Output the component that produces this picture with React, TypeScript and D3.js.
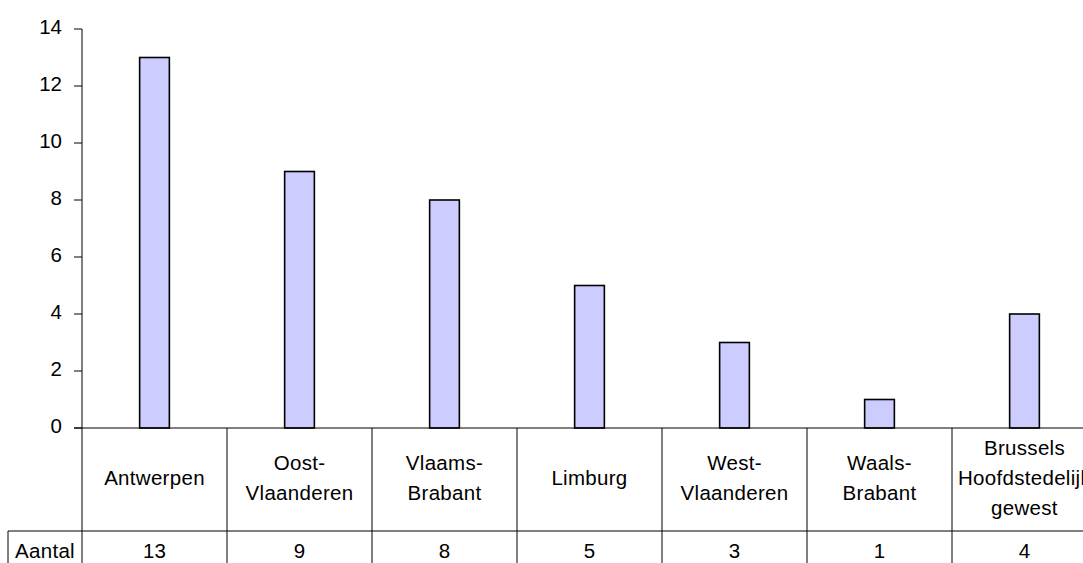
import React from "react";
import * as d3 from "d3";

const categories = [
  "Antwerpen",
  "Oost-Vlaanderen",
  "Vlaams-Brabant",
  "Limburg",
  "West-Vlaanderen",
  "Waals-Brabant",
  "Brussels Hoofdstedelijk gewest",
];
const categoryLines: string[][] = [
  ["Antwerpen"],
  ["Oost-", "Vlaanderen"],
  ["Vlaams-", "Brabant"],
  ["Limburg"],
  ["West-", "Vlaanderen"],
  ["Waals-", "Brabant"],
  ["Brussels", "Hoofdstedelijk", "gewest"],
];
const values = [13, 9, 8, 5, 3, 1, 4];
const yTicks = [0, 2, 4, 6, 8, 10, 12, 14];
const seriesName = "Aantal";

const W = 1083;
const H = 563;
const left = 82;
const right = 1097;
const top = 29;
const bottom = 428;
const rowSplit = 531;
const font = "'Liberation Sans', Arial, sans-serif";
const fs = 20.5;

export default function App() {
  const x = d3.scaleBand<string>().domain(categories).range([left, right]).padding(0);
  const y = d3.scaleLinear().domain([0, 14]).range([bottom, top]);
  const bw = x.bandwidth() * 0.205;
  const lineH = 29.7;
  const midBaseline = 485;

  return (
    <svg
      width={W}
      height={H}
      style={{ position: "absolute", left: 0, top: 0, background: "#fff" }}
      fontFamily={font}
    >
      <rect x={0} y={0} width={W} height={H} fill="#fff" />
      {/* y axis */}
      <line x1={left} x2={left} y1={top} y2={bottom} stroke="#000" strokeWidth={1} />
      {yTicks.map((t) => (
        <g key={t}>
          <line x1={left - 8} x2={left} y1={y(t)} y2={y(t)} stroke="#000" strokeWidth={1} />
          <text x={62} y={y(t)} dy={5} textAnchor="end" fontSize={fs} fill="#000">
            {t}
          </text>
        </g>
      ))}
      {/* bars */}
      {categories.map((c, i) => (
        <rect
          key={c}
          x={(x(c) as number) + x.bandwidth() / 2 - bw / 2}
          y={y(values[i])}
          width={bw}
          height={y(0) - y(values[i])}
          fill="#CCCCFF"
          stroke="#000"
          strokeWidth={1.6}
        />
      ))}
      {/* table */}
      <line x1={left - 8} x2={right} y1={bottom} y2={bottom} stroke="#000" strokeWidth={1} />
      <line x1={8} x2={right} y1={rowSplit} y2={rowSplit} stroke="#000" strokeWidth={1} />
      <line x1={8} x2={8} y1={rowSplit} y2={H + 5} stroke="#000" strokeWidth={1} />
      {categories.map((c) => (
        <line
          key={"v" + c}
          x1={x(c) as number}
          x2={x(c) as number}
          y1={bottom}
          y2={H + 5}
          stroke="#000"
          strokeWidth={1}
        />
      ))}
      <line x1={right} x2={right} y1={bottom} y2={H + 5} stroke="#000" strokeWidth={1} />
      {categories.map((c, i) => {
        const lines = categoryLines[i];
        const start = midBaseline - ((lines.length - 1) * lineH) / 2;
        return (
          <text key={"t" + c} textAnchor="middle" fontSize={fs} letterSpacing={0.3} fill="#000">
            {lines.map((l, j) => (
              <tspan key={j} x={(x(c) as number) + x.bandwidth() / 2} y={start + j * lineH}>
                {l}
              </tspan>
            ))}
          </text>
        );
      })}
      <text x={45} y={558} textAnchor="middle" fontSize={fs} letterSpacing={0.3} fill="#000">
        {seriesName}
      </text>
      {categories.map((c, i) => (
        <text
          key={"n" + c}
          x={(x(c) as number) + x.bandwidth() / 2}
          y={558}
          textAnchor="middle"
          fontSize={fs}
          fill="#000"
        >
          {values[i]}
        </text>
      ))}
    </svg>
  );
}
